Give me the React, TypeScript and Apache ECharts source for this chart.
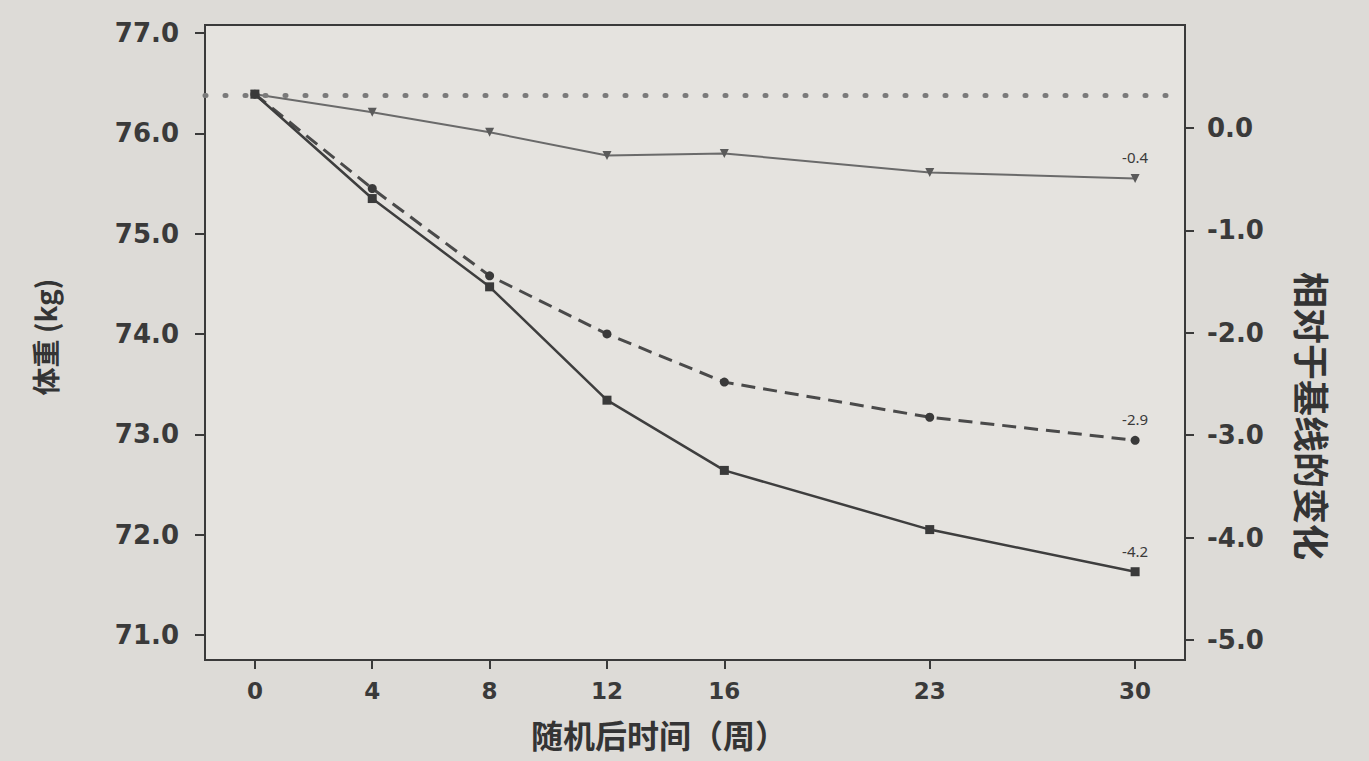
import React, { useEffect, useRef } from "react";
import * as echarts from "echarts";

const weeks = [0, 4, 8, 12, 16, 23, 30];
const xTickLabels = [0, 4, 8, 12, 16, 23, 30];
const leftTicks = [71, 72, 73, 74, 75, 76, 77];
const rightTicks = [0, -1, -2, -3, -4, -5];

// body weight (kg)
const seriesTriangle = [76.39, 76.21, 76.01, 75.78, 75.8, 75.61, 75.55];
const seriesCircle = [76.39, 75.45, 74.58, 74.0, 73.52, 73.17, 72.94];
const seriesSquare = [76.39, 75.35, 74.47, 73.34, 72.64, 72.05, 71.63];
const endLabels = ["-0.4", "-2.9", "-4.2"];
const baseline = 76.38;

const xTitle = "随机后时间（周）";
const leftTitle = "体重 (kg)";
const rightTitle = "相对于基线的变化";

const FONT = "'DejaVu Sans', 'Noto Sans CJK SC', sans-serif";
const CJK = "'Noto Sans CJK SC', sans-serif";

function pairs(vals: number[]) {
  return vals.map((v, i) => [weeks[i], v]);
}

function withEndLabel(vals: number[], label: string) {
  const d: any[] = pairs(vals);
  const last = d.length - 1;
  d[last] = {
    value: d[last],
    label: {
      show: true,
      position: "top",
      distance: 9,
      formatter: label,
      fontSize: 15,
      color: "#3a3a3a",
      fontFamily: "'Noto Sans', sans-serif",
    },
  };
  return d;
}

export default function App() {
  const ref = useRef<HTMLDivElement>(null);
  useEffect(() => {
    document.body.style.margin = "0";
    const chart = echarts.init(ref.current!, null, { renderer: "svg" });
    const tickLabel = { color: "#3a3a3a", fontWeight: "bold" as const, fontFamily: FONT };
    const titleStyle = { fontWeight: "bold", fill: "#343434", fontFamily: CJK, align: "center", verticalAlign: "middle" };
    chart.setOption({
      animation: false,
      backgroundColor: "#dddbd7",
      textStyle: { fontFamily: FONT },
      grid: {
        left: 205,
        right: 184,
        top: 25,
        height: 635,
        show: true,
        backgroundColor: "#e5e3df",
        borderColor: "#3a3a3a",
        borderWidth: 2,
      },
      xAxis: {
        type: "value",
        min: -1.7,
        max: 31.7,
        axisLine: { show: true, onZero: false, lineStyle: { color: "#3a3a3a", width: 2 } },
        axisTick: { show: true, length: 9, lineStyle: { color: "#3a3a3a", width: 2 }, customValues: xTickLabels },
        axisLabel: { ...tickLabel, fontSize: 23, margin: 19, customValues: xTickLabels },
        splitLine: { show: false },
      },
      yAxis: [
        {
          type: "value",
          min: 70.75,
          max: 77.08,
          position: "left",
          axisLine: { show: true, onZero: false, lineStyle: { color: "#3a3a3a", width: 2 } },
          axisTick: { show: true, length: 10, lineStyle: { color: "#3a3a3a", width: 2 }, customValues: leftTicks },
          axisLabel: {
            ...tickLabel,
            fontSize: 26,
            margin: 26,
            customValues: leftTicks,
            formatter: (v: number) => v.toFixed(1),
          },
          splitLine: { show: false },
        },
        {
          type: "value",
          min: -5.195,
          max: 1.006,
          position: "right",
          axisLine: { show: true, onZero: false, lineStyle: { color: "#3a3a3a", width: 2 } },
          axisTick: { show: true, length: 9, lineStyle: { color: "#3a3a3a", width: 2 }, customValues: rightTicks },
          axisLabel: {
            ...tickLabel,
            fontSize: 26,
            margin: 22,
            customValues: rightTicks,
            formatter: (v: number) => v.toFixed(1),
          },
          splitLine: { show: false },
        },
      ],
      graphic: [
        {
          type: "text",
          x: 659,
          y: 734,
          style: { ...titleStyle, text: xTitle, fontSize: 32 },
        },
        {
          type: "text",
          x: 45,
          y: 337,
          rotation: Math.PI / 2,
          style: { ...titleStyle, text: leftTitle, fontSize: 28 },
        },
        {
          type: "text",
          x: 1313,
          y: 416,
          rotation: -Math.PI / 2,
          style: { ...titleStyle, text: rightTitle, fontSize: 36 },
        },
      ],
      series: [
        {
          type: "line",
          yAxisIndex: 0,
          data: withEndLabel(seriesTriangle, endLabels[0]),
          symbol: "triangle",
          symbolRotate: 180,
          symbolSize: 9,
          lineStyle: { color: "#6a6a6a", width: 2 },
          itemStyle: { color: "#5a5a5a" },
          markLine: {
            silent: true,
            symbol: "none",
            label: { show: false },
            lineStyle: { color: "#7a7a7a", width: 5, type: [1, 19], cap: "round" },
            data: [{ yAxis: baseline }],
          },
          z: 3,
        },
        {
          type: "line",
          yAxisIndex: 0,
          data: withEndLabel(seriesCircle, endLabels[1]),
          symbol: "circle",
          symbolSize: 9,
          lineStyle: { color: "#4a4a4a", width: 3, type: [14, 8] },
          itemStyle: { color: "#3a3a3a" },
          z: 4,
        },
        {
          type: "line",
          yAxisIndex: 0,
          data: withEndLabel(seriesSquare, endLabels[2]),
          symbol: "rect",
          symbolSize: 9,
          lineStyle: { color: "#3e3e3e", width: 2.5 },
          itemStyle: { color: "#3a3a3a" },
          z: 5,
        },
      ],
    });
    return () => chart.dispose();
  }, []);
  return <div ref={ref} style={{ width: 1369, height: 761 }} />;
}
